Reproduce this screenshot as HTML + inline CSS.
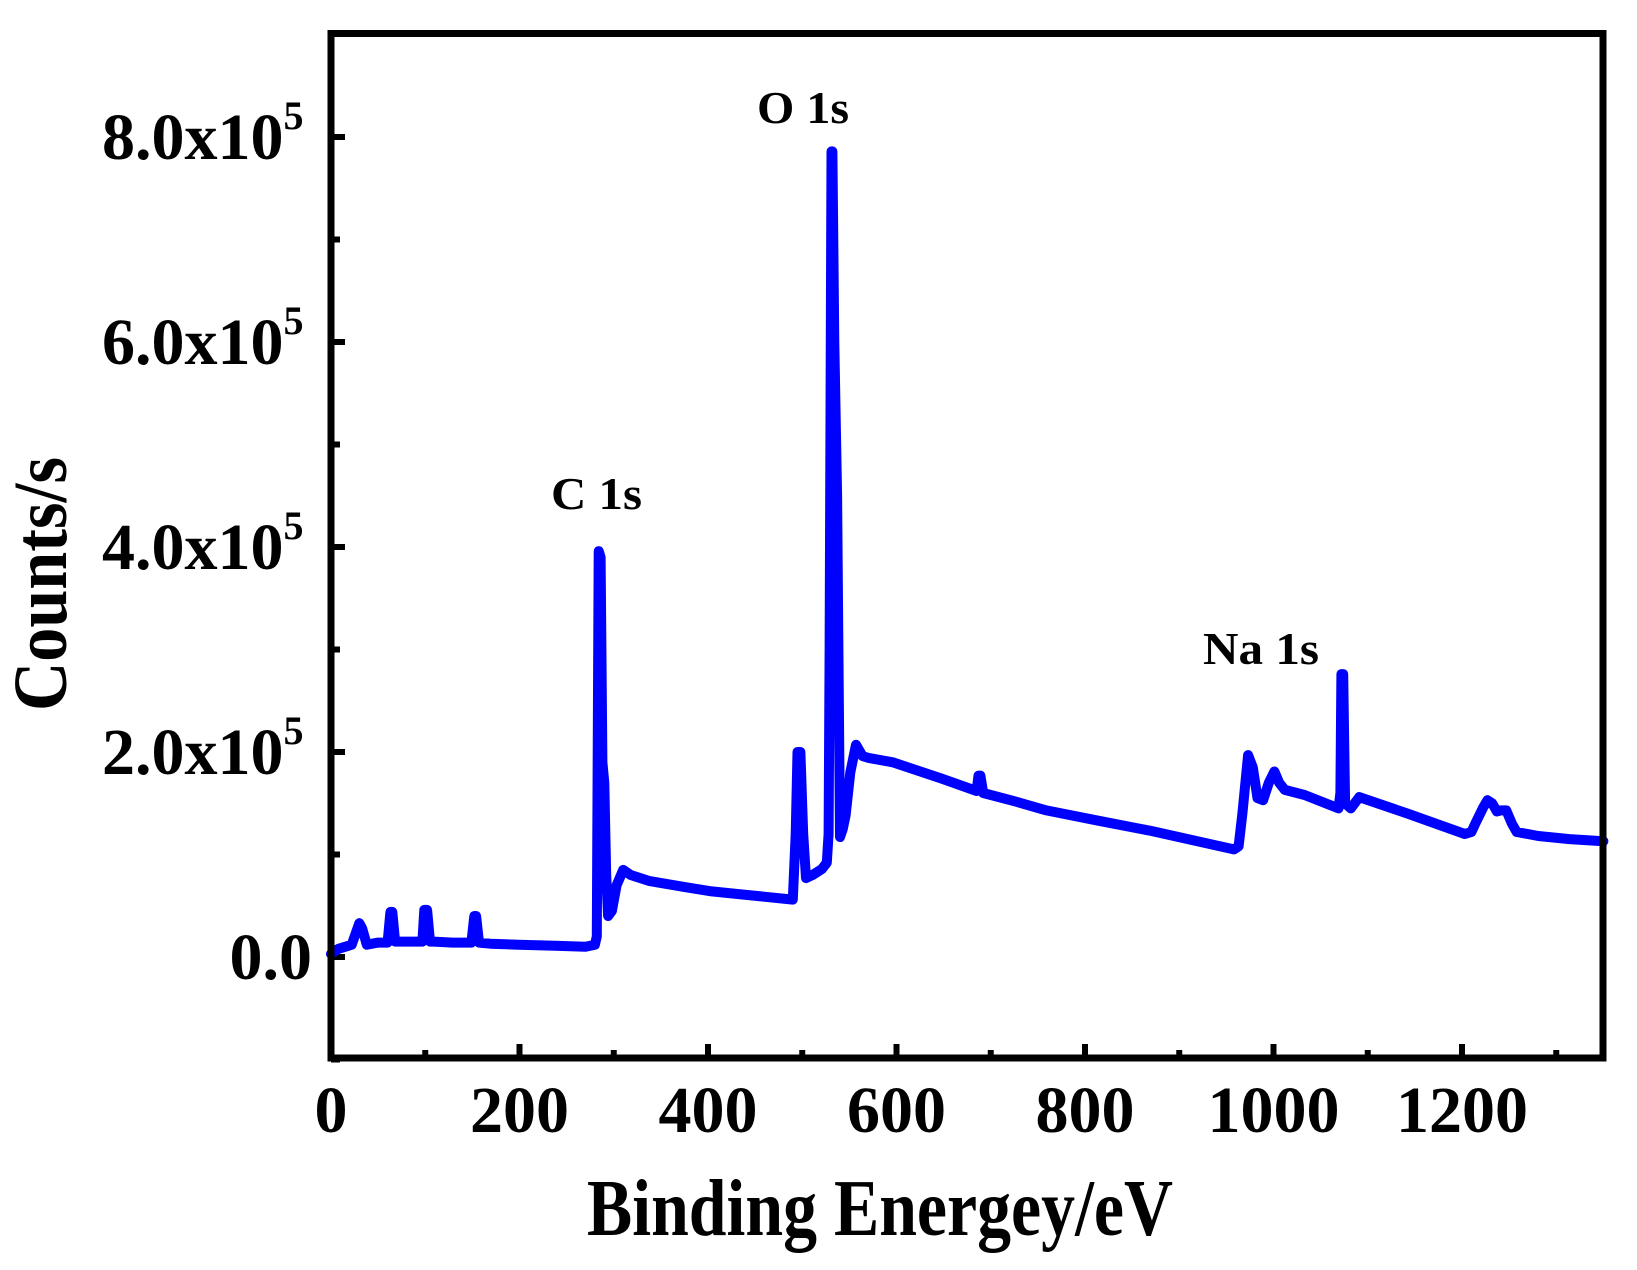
<!DOCTYPE html>
<html>
<head>
<meta charset="utf-8">
<style>
html,body{margin:0;padding:0;background:#fff;}
svg{display:block;}
text{font-family:"Liberation Serif",serif;font-weight:bold;fill:#000;}
</style>
</head>
<body>
<svg id="chart" width="1637" height="1270" viewBox="0 0 1637 1270" xmlns="http://www.w3.org/2000/svg">
  <g id="ticks"></g>
  <g id="series"></g>
  <rect x="331" y="33.5" width="1272" height="1024.5" fill="none" stroke="#000" stroke-width="7"/>
  <g id="labels"></g>
  <text x="587" y="1235" font-size="80" textLength="586" lengthAdjust="spacingAndGlyphs">Binding Energey/eV</text>
  <text transform="translate(66,711) rotate(-90)" font-size="76" textLength="254" lengthAdjust="spacingAndGlyphs">Counts/s</text>
  <text x="757" y="123" font-size="46" textLength="92" lengthAdjust="spacingAndGlyphs">O 1s</text>
  <text x="551" y="509" font-size="46" textLength="91" lengthAdjust="spacingAndGlyphs">C 1s</text>
  <text x="1203" y="664" font-size="46" textLength="116" lengthAdjust="spacingAndGlyphs">Na 1s</text>
</svg>
<script>
// Data (binding energy eV, counts in units of 1e5 counts/s)
const energies = [0,8,15,22,27,30,33,38,50,60,63,65,68,79,97,99,102,105,109,129,149,152,154,157,169,199,238,270,280,282,284,286,288,290,292,294,298,303,310,318,338,377,404,447,490,493,495,498,501,504,511,521,526,528,529,531,532,534,537,540,543,546,551,557,564,571,596,648,685,687,689,692,725,759,814,870,914,958,963,967,973,978,983,989,995,1001,1006,1012,1033,1069,1071,1072,1074,1076,1082,1091,1142,1203,1210,1214,1222,1227,1232,1237,1241,1247,1253,1258,1281,1314,1350];
const counts   = [0.03,0.08,0.10,0.12,0.25,0.33,0.28,0.12,0.14,0.14,0.44,0.44,0.15,0.15,0.15,0.46,0.46,0.15,0.15,0.14,0.14,0.40,0.40,0.14,0.13,0.12,0.11,0.10,0.12,0.20,3.96,3.90,1.90,1.70,0.80,0.40,0.45,0.70,0.85,0.80,0.74,0.68,0.64,0.60,0.56,1.20,2.00,2.00,1.20,0.77,0.80,0.86,0.92,1.20,3.00,7.86,7.86,6.00,4.50,1.17,1.25,1.38,1.80,2.07,1.96,1.94,1.90,1.74,1.62,1.77,1.77,1.60,1.52,1.43,1.33,1.23,1.14,1.05,1.08,1.40,1.97,1.85,1.55,1.53,1.70,1.81,1.70,1.63,1.58,1.45,1.60,2.76,2.76,1.50,1.45,1.56,1.40,1.20,1.22,1.30,1.45,1.53,1.50,1.42,1.43,1.43,1.30,1.22,1.18,1.15,1.13];
const xTickValues = [0,200,400,600,800,1000,1200];
const xTickLabels = ["0","200","400","600","800","1000","1200"];
const xMinorValues = [100,300,500,700,900,1100,1300];
const yTickValues = [0,2,4,6,8];
const yTickLabels = ["0.0","2.0x10","4.0x10","6.0x10","8.0x10"];
const yMinorValues = [-1,1,3,5,7];

const NS = "http://www.w3.org/2000/svg";
function X(e){ return 331 + e*0.9425; }
function Y(v){ return 957 - v*102.5; }

const series = document.getElementById('series');
let d = '';
for (let i=0;i<energies.length;i++){ d += (i?'L':'M') + X(energies[i]).toFixed(1) + ' ' + Y(counts[i]).toFixed(1) + ' '; }
const path = document.createElementNS(NS,'path');
path.setAttribute('d', d);
path.setAttribute('fill','none');
path.setAttribute('stroke','#0000ff');
path.setAttribute('stroke-width','10');
path.setAttribute('stroke-linejoin','round');
path.setAttribute('stroke-linecap','round');


series.appendChild(path);

const ticks = document.getElementById('ticks');
const labels = document.getElementById('labels');
function line(x1,y1,x2,y2,name){
  const l = document.createElementNS(NS,'line');
  l.setAttribute('x1',x1); l.setAttribute('y1',y1); l.setAttribute('x2',x2); l.setAttribute('y2',y2);
  l.setAttribute('stroke','#000'); l.setAttribute('stroke-width','6');
  
  
  ticks.appendChild(l);
}
xTickValues.forEach((v,i)=>{
  line(X(v),1058,X(v),1044,'x-major-tick');
  const t = document.createElementNS(NS,'text');
  t.setAttribute('x', X(v)); t.setAttribute('y', 1132);
  t.setAttribute('text-anchor','middle'); t.setAttribute('font-size','66');
  t.textContent = xTickLabels[i];
  
  
  labels.appendChild(t);
});
xMinorValues.forEach(v=>{ line(X(v),1058,X(v),1050,'x-minor-tick'); });
yTickValues.forEach((v,i)=>{
  line(331,Y(v),345,Y(v),'y-major-tick');
  const t = document.createElementNS(NS,'text');
  t.setAttribute('y', Y(v)+22); t.setAttribute('font-size','66');
  
  
  if (v===0){
    t.setAttribute('x', 312); t.setAttribute('text-anchor','end');
    t.textContent = yTickLabels[i];
  } else {
    t.setAttribute('x', 102);
    t.appendChild(document.createTextNode(yTickLabels[i]));
    const s = document.createElementNS(NS,'tspan');
    s.setAttribute('font-size','40'); s.setAttribute('dy','-30');
    s.textContent = '5';
    t.appendChild(s);
  }
  labels.appendChild(t);
});
yMinorValues.forEach(v=>{ line(331,Y(v),340,Y(v),'y-minor-tick'); });
</script>
</body>
</html>
